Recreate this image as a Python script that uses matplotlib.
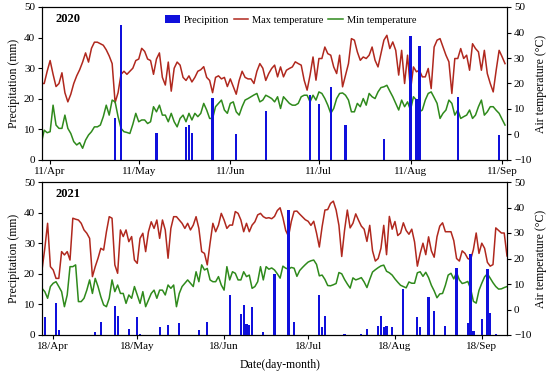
import matplotlib
matplotlib.use('Agg')
import matplotlib.pyplot as plt
import pandas as pd

plt.rcParams['font.family'] = ['Liberation Serif', 'DejaVu Serif']
plt.rcParams['axes.linewidth'] = 0.8

# ---------------- 2020 ----------------
start20 = '2020-04-08'
tmax20 = [20.0, 20.0, 24.8, 29.0, 23.6, 18.8, 20.0, 24.2, 16.4, 12.8,
          15.8, 20.0, 23.0, 25.4, 28.4, 32.0, 28.4, 33.8, 36.2, 36.2,
          35.6, 35.0, 33.2, 30.8, 27.8, 12.5, 16.4, 23.6, 24.8, 23.6,
          24.8, 26.0, 29.0, 29.6, 33.8, 32.6, 29.6, 29.0, 23.6, 29.6,
          32.0, 22.4, 19.4, 28.4, 17.0, 26.0, 28.4, 27.2, 22.4, 21.2,
          23.0, 20.6, 22.4, 24.8, 25.4, 26.6, 22.4, 21.2, 16.4, 22.4,
          23.0, 21.8, 22.4, 18.8, 21.8, 18.8, 15.8, 21.2, 24.8, 22.4,
          21.8, 21.8, 20.0, 24.8, 27.8, 26.0, 21.2,
          23.9, 25.9, 27.2, 22.6, 26.5, 22.6, 25.2, 25.9, 26.5, 28.5,
          27.8, 27.2, 21.3, 17.4, 23.3, 30.4, 21.3, 29.8, 29.8, 34.3,
          31.7, 31.1, 26.5, 23.9, 31.1, 18.7, 23.3, 27.8, 37.6, 37.0,
          32.4, 29.1, 30.4, 29.8, 31.1, 34.3, 29.1, 26.5, 31.7, 37.0,
          38.9, 33.7, 36.3, 33.0, 23.3, 33.0, 20.0, 31.1, 17.4, 26.5,
          24.6, 25.2, 22.6, 22.6, 25.9, 18.0, 34.3, 37.0, 37.6, 34.3,
          31.1, 28.5, 16.1, 29.8, 29.8, 33.7, 29.8, 31.1, 25.2, 35.6,
          33.7, 32.4, 25.2, 33.0, 23.9, 20.0, 16.7, 25.2, 33.0, 30.5,
          27.8]
tmin20 = [-3.5, 1.7, 0.7, 1.1, 11.5, 3.7, 2.4, 2.4, 7.6, 2.4,
          0.4, -2.8, -4.1, -3.2, -5.4, -2.2, -0.2, 1.1, 3.0, 3.0,
          3.7, 7.0, 11.5, 7.6, 13.5, 12.8, 7.0, 2.4, 1.1, 0.8,
          0.4, 4.0, 8.3, 5.0, 5.7, 5.7, 4.3, 5.0, 10.9, 8.9,
          11.5, 7.6, 7.6, 5.0, 8.3, 5.0, 3.0, 6.3, 7.6, 5.0,
          8.3, 5.7, 8.3, 7.0, 8.3, 12.2, 9.6, 6.3, 6.3, 10.9,
          12.2, 13.5, 9.6, 8.3, 12.2, 12.8, 8.9, 7.6, 10.9, 13.5,
          14.1, 14.8, 15.5, 16.1, 12.8, 13.5, 15.4,
          14.8, 14.1, 12.8, 14.8, 10.2, 14.8, 13.5, 12.2, 11.5, 11.5,
          12.2, 14.8, 15.4, 15.4, 12.8, 15.4, 13.5, 16.7, 16.1, 14.1,
          11.5, 8.3, 10.2, 14.1, 16.1, 16.3, 15.4, 13.5, 8.9, 8.9,
          12.2, 10.9, 14.1, 11.5, 16.1, 14.8, 14.1, 16.7, 18.4, 18.7,
          19.3, 17.0, 14.8, 12.2, 9.6, 13.5, 10.9, 12.8, 9.6, 14.8,
          13.5, 8.9, 9.6, 13.5, 16.1, 16.7, 14.5, 12.2, 6.3, 8.3,
          9.6, 13.5, 12.2, 7.6, 9.6, 6.3, 7.0, 7.6, 9.6, 6.3,
          7.6, 10.9, 13.5, 7.6, 8.9, 10.9, 10.9, 9.5, 8.3, 6.0,
          3.7]
rain20_days = ['2020-05-03', '2020-05-05', '2020-05-17', '2020-05-27', '2020-05-28',
               '2020-05-29', '2020-06-05', '2020-06-13', '2020-06-23', '2020-07-08',
               '2020-07-11', '2020-07-15', '2020-07-20', '2020-08-02', '2020-08-11',
               '2020-08-13', '2020-08-14', '2020-08-27', '2020-09-10']
rain20 = [13.6, 44.2, 8.9, 10.9, 11.6, 8.9, 20.3, 8.4, 16.1, 21.2,
          18.2, 23.9, 11.3, 6.7, 40.4, 20.0, 37.3, 20.7, 8.2]
ticks20 = ['2020-04-11', '2020-05-11', '2020-06-11', '2020-07-11', '2020-08-11', '2020-09-11']
ticklabels20 = ['11/Apr', '11/May', '11/Jun', '11/Jul', '11/Aug', '11/Sep']

# ---------------- 2021 ----------------
start21 = '2021-04-14'
tmax21 = [15.5, 24.0, 33.8, 16.8, 15.5, 12.2, 12.2, 22.7, 21.4, 22.7,
          19.4, 35.8, 35.4, 35.1, 33.8, 31.2, 29.9, 27.9, 12.9, 16.8,
          20.1, 24.0, 23.3, 30.5, 36.4, 35.8, 17.5, 14.2, 31.2, 28.6,
          31.2, 26.6, 28.6, 19.4, 18.1, 27.9, 29.9, 22.7, 30.5, 34.4,
          31.8, 35.1, 27.9, 35.1, 31.2, 20.1, 31.8, 36.4, 36.4, 35.1,
          33.8, 31.8, 33.8, 31.2, 33.1, 36.4, 31.8, 22.7, 22.0, 17.5,
          26.0, 33.8, 30.5, 33.1, 37.7, 35.1, 31.8, 33.1, 33.1, 38.4,
          37.7, 35.1, 30.5, 33.8, 30.5, 33.1, 34.4, 37.1, 37.7, 36.4,
          35.8,
          36.0, 35.6, 36.5, 38.8, 39.9, 36.0, 31.0, 28.7, 34.5, 38.5,
          38.6, 37.4, 36.3, 35.2, 34.6, 33.0, 34.6, 30.0, 24.5, 32.5,
          39.0, 39.2, 41.6, 42.5, 39.0, 33.0, 20.8, 31.0, 39.0, 32.0,
          33.8, 37.5, 35.0, 32.7, 31.5, 26.7, 33.0, 23.0, 19.0, 20.0,
          24.0, 33.0, 21.5, 36.5, 31.5, 34.5, 29.0, 30.0, 34.0, 31.0,
          29.5, 31.5, 26.5, 17.0, 22.0, 26.0, 21.5, 28.5, 23.0, 20.5,
          28.5, 32.7, 34.0, 30.5, 30.5, 30.5, 27.0, 20.0, 19.0, 23.0,
          22.0, 20.0, 19.5, 23.5, 30.0, 22.0, 26.0, 24.0, 18.5, 17.0,
          17.6, 32.0, 31.0, 30.0, 30.0, 21.0]
tmin21 = [8.3, 7.0, 4.4, 9.0, 10.3, 10.9, 9.0, 7.0, 1.1, 5.7,
          16.8, 16.8, 17.5, 3.1, 3.1, 4.4, 7.6, 11.6, 6.3, 12.2,
          9.0, 5.0, 1.8, 1.1, 4.4, 11.6, 7.0, 9.6, 6.3, 6.3,
          2.4, 5.7, 4.4, 9.0, 5.7, 2.4, 7.0, 1.1, 3.7, 6.3,
          7.6, 4.4, 7.6, 7.6, 5.7, 9.6, 8.3, 9.6, 1.1, 6.3,
          9.0, 10.3, 11.6, 10.3, 9.0, 14.8, 10.9, 17.5, 15.5, 16.1,
          11.6, 10.9, 10.9, 12.9, 9.6, 7.6, 16.8, 11.6, 14.8, 14.2,
          11.6, 11.6, 14.8, 12.9, 13.5, 8.3, 9.0, 10.9, 16.8, 11.6,
          16.8,
          15.8, 16.3, 15.5, 14.0, 12.3, 17.0, 16.2, 15.8, 16.5, 16.2,
          13.0, 15.3, 16.5, 17.6, 18.6, 19.1, 19.4, 17.7, 13.2, 13.5,
          11.8, 9.4, 9.3, 9.7, 10.2, 14.5, 14.0, 11.8, 10.0, 8.4,
          12.4, 11.6, 12.0, 12.5, 10.8, 8.6, 11.8, 14.7, 15.6, 16.4,
          17.1, 17.4, 15.0, 14.4, 13.5, 12.0, 10.7, 9.5, 9.0, 8.5,
          10.8, 10.3, 10.3, 14.4, 14.8, 13.0, 14.6, 12.5, 9.5, 7.3,
          4.6, 6.1, 6.3, 9.5, 13.5, 14.2, 12.0, 14.5, 11.6, 10.2,
          10.5, 11.0, 8.2, 3.2, 2.5, 7.5, 10.3, 12.8, 14.0, 12.3,
          10.5, 9.0, 8.0, 8.1, 8.6, 9.0]
rain21_days = ['2021-04-15', '2021-04-19', '2021-04-20', '2021-05-03', '2021-05-05',
               '2021-05-10', '2021-05-11', '2021-05-15', '2021-05-18', '2021-05-19',
               '2021-05-26', '2021-05-29', '2021-06-02', '2021-06-09', '2021-06-12',
               '2021-06-20', '2021-06-24', '2021-06-25', '2021-06-26', '2021-06-27',
               '2021-06-28', '2021-07-02', '2021-07-06', '2021-07-11', '2021-07-13',
               '2021-07-22', '2021-07-23', '2021-07-24', '2021-07-31', '2021-08-06',
               '2021-08-08', '2021-08-12', '2021-08-13', '2021-08-14', '2021-08-15',
               '2021-08-17', '2021-08-21', '2021-08-26', '2021-08-27', '2021-08-30',
               '2021-09-01', '2021-09-05', '2021-09-09', '2021-09-13', '2021-09-14',
               '2021-09-15', '2021-09-18', '2021-09-20', '2021-09-21', '2021-09-23']
rain21 = [6.0, 10.3, 1.6, 0.9, 4.4, 9.5, 6.2, 1.9, 6.0, 0.3,
          2.7, 3.3, 4.0, 1.6, 4.2, 13.2, 6.8, 9.8, 3.6, 3.3,
          9.0, 0.9, 19.9, 40.8, 4.4, 13.1, 2.7, 6.3, 0.3, 0.3,
          1.9, 2.9, 6.3, 2.7, 2.9, 2.5, 14.9, 6.0, 2.7, 12.3,
          8.0, 3.1, 21.8, 3.8, 26.5, 1.4, 5.1, 21.6, 7.1, 0.3]
ticks21 = ['2021-04-18', '2021-05-18', '2021-06-18', '2021-07-18', '2021-08-18', '2021-09-18']
ticklabels21 = ['18/Apr', '18/May', '18/Jun', '18/Jul', '18/Aug', '18/Sep']

series_labels = ['Precipition', 'Max temperature', 'Min temperature']

BLUE = '#1010dc'
RED = '#b0281e'
GREEN = '#2f8a1c'
FS = 8

fig = plt.figure(figsize=(5.5, 3.76), dpi=100)
W, H = 550.0, 376.0


def panel(rect, start, tmax, tmin, rdays, rvals, xlim, ticks, ticklabels, year, legend):
    ax = fig.add_axes(rect)
    axt = ax.twinx()
    dmax = pd.date_range(start, periods=len(tmax), freq='D')
    dmin = pd.date_range(start, periods=len(tmin), freq='D')
    l1, = axt.plot(dmax, tmax, color=RED, lw=1.1)
    l2, = axt.plot(dmin, tmin, color=GREEN, lw=1.1)
    bars = ax.bar(pd.to_datetime(rdays), rvals, width=0.8, color=BLUE, linewidth=0)
    ax.set_zorder(axt.get_zorder() + 1)
    ax.patch.set_visible(False)
    ax.set_xlim(pd.Timestamp(xlim[0]), pd.Timestamp(xlim[1]))
    ax.set_ylim(0, 50)
    axt.set_ylim(-10, 50)
    ax.set_yticks(range(0, 51, 10))
    axt.set_yticks(range(-10, 51, 10))
    ax.set_xticks(pd.to_datetime(ticks))
    ax.set_xticklabels(ticklabels)
    for a in (ax, axt):
        a.tick_params(direction='out', length=3, width=0.8, labelsize=FS, pad=2)
    ax.set_ylabel('Precipitation (mm)', fontsize=8.5, labelpad=3)
    axt.set_ylabel('Air temperature (\u00b0C)', fontsize=8.5, labelpad=3)
    ax.text(0.03, 0.92, year, transform=ax.transAxes, fontsize=9,
            fontweight='bold', va='center', ha='left')
    if legend:
        ax.legend([bars, l1, l2], series_labels, loc='center', ncol=3,
                  frameon=False, fontsize=7.5, bbox_to_anchor=(0.535, 0.915),
                  handlelength=1.4, handletextpad=0.4, columnspacing=0.4,
                  borderaxespad=0)
    return ax


panel([42 / W, 1 - 160 / H, 465 / W, 153 / H], start20, tmax20, tmin20,
      rain20_days, rain20, ('2020-04-08 06:00', '2020-09-12 16:00'),
      ticks20, ticklabels20, '2020', True)
ax2 = panel([42 / W, 1 - 335 / H, 465 / W, 153 / H], start21, tmax21, tmin21,
            rain21_days, rain21, ('2021-04-14', '2021-09-27'),
            ticks21, ticklabels21, '2021', False)
ax2.set_xlabel('Date(day-month)', fontsize=8.5, labelpad=6)
ax2.xaxis.set_label_coords(0.512, -0.16)

fig.savefig('out.png', dpi=100)
